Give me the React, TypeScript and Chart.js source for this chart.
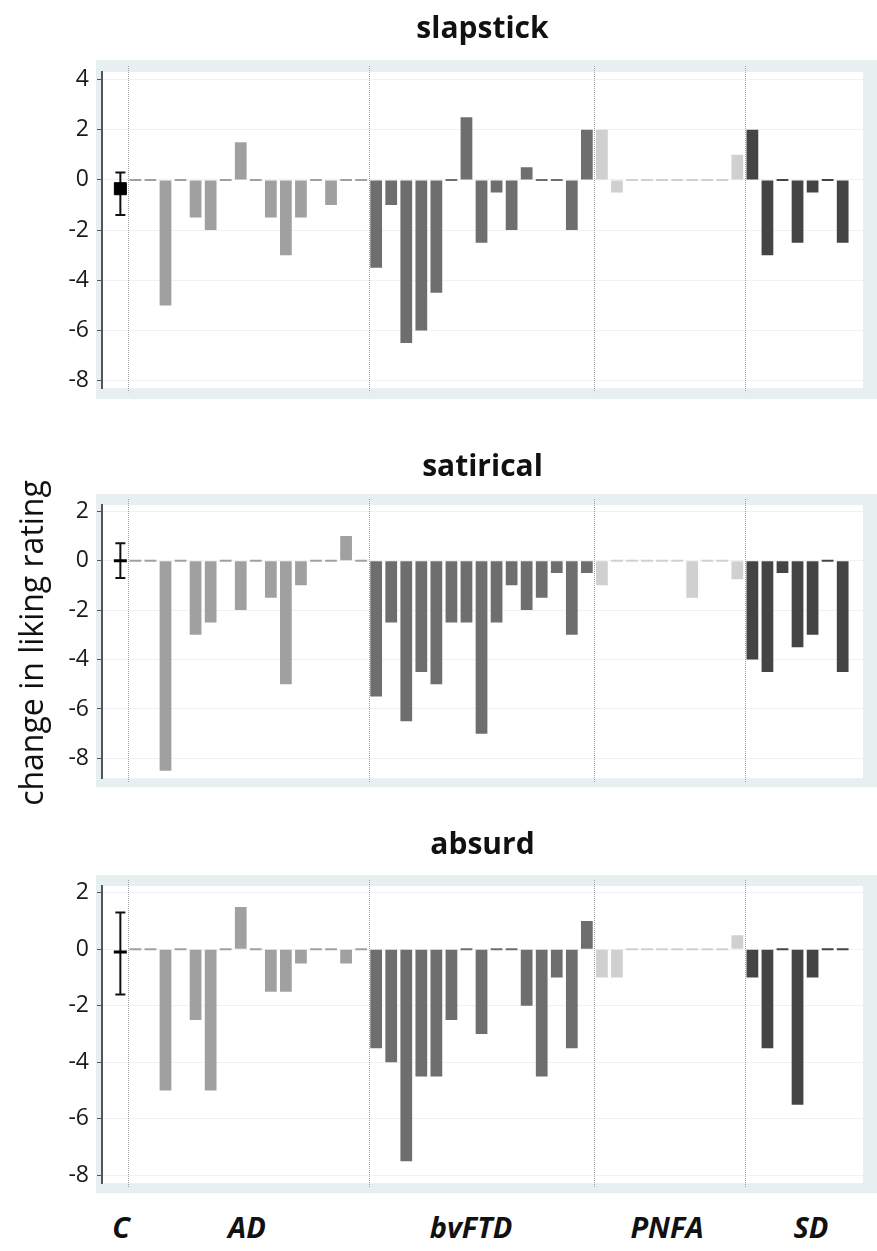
import React, { useEffect, useRef } from "react";
import { Chart, registerables } from "chart.js";

Chart.register(...registerables);

// ---------- text ----------
const panelTitles = ["slapstick", "satirical", "absurd"];
const yAxisTitle = "change in liking rating";
const groupLabels = ["C", "AD", "bvFTD", "PNFA", "SD"];

// ---------- tick labels ----------
const slapstickTicks = [4, 2, 0, -2, -4, -6, -8];
const satiricalTicks = [2, 0, -2, -4, -6, -8];
const absurdTicks = [2, 0, -2, -4, -6, -8];

// ---------- control group (mean with error bar) ----------
const controlMean = [-0.35, 0, -0.1];
const controlLow = [-1.4, -0.7, -1.6];
const controlHigh = [0.3, 0.7, 1.3];

// ---------- slapstick ----------
const slapstickAD = [0, 0, -5, 0, -1.5, -2, 0, 1.5, 0, -1.5, -3, -1.5, 0, -1, 0, 0];
const slapstickBvFTD = [-3.5, -1, -6.5, -6, -4.5, 0, 2.5, -2.5, -0.5, -2, 0.5, 0, 0, -2, 2];
const slapstickPNFA = [2, -0.5, 0, 0, 0, 0, 0, 0, 0, 1];
const slapstickSD = [2, -3, 0, -2.5, -0.5, 0, -2.5];

// ---------- satirical ----------
const satiricalAD = [0, 0, -8.5, 0, -3, -2.5, 0, -2, 0, -1.5, -5, -1, 0, 0, 1, 0];
const satiricalBvFTD = [-5.5, -2.5, -6.5, -4.5, -5, -2.5, -2.5, -7, -2.5, -1, -2, -1.5, -0.5, -3, -0.5];
const satiricalPNFA = [-1, 0, 0, 0, 0, 0, -1.5, 0, 0, -0.75];
const satiricalSD = [-4, -4.5, -0.5, -3.5, -3, 0, -4.5];

// ---------- absurd ----------
const absurdAD = [0, 0, -5, 0, -2.5, -5, 0, 1.5, 0, -1.5, -1.5, -0.5, 0, 0, -0.5, 0];
const absurdBvFTD = [-3.5, -4, -7.5, -4.5, -4.5, -2.5, 0, -3, 0, 0, -2, -4.5, -1, -3.5, 1];
const absurdPNFA = [-1, -1, 0, 0, 0, 0, 0, 0, 0, 0.5];
const absurdSD = [-1, -3.5, 0, -5.5, -1, 0, 0];

// ---------- styling ----------
const groupColors = ["#a0a0a0", "#6e6e6e", "#d0d0d0", "#444444"];
const frameColor = "#e8eff1";
const FONT = "'Open Sans', 'DejaVu Sans', sans-serif";

type PanelCfg = {
  idx: number;
  groups: number[][];
  ticks: number[];
  yMin: number;
  yMax: number;
  top: number;
  height: number;
  padTop: number;
  padBottom: number;
  frameTop: number;
  frameBottom: number;
  marker: "rect" | "line";
};

const panels: PanelCfg[] = [
  {
    idx: 0,
    groups: [slapstickAD, slapstickBvFTD, slapstickPNFA, slapstickSD],
    ticks: slapstickTicks,
    yMin: -8.3,
    yMax: 4.3,
    top: 0,
    height: 410,
    padTop: 72,
    padBottom: 18,
    frameTop: 12,
    frameBottom: 11,
    marker: "rect",
  },
  {
    idx: 1,
    groups: [satiricalAD, satiricalBvFTD, satiricalPNFA, satiricalSD],
    ticks: satiricalTicks,
    yMin: -8.8,
    yMax: 2.25,
    top: 420,
    height: 380,
    padTop: 85,
    padBottom: 16,
    frameTop: 11,
    frameBottom: 9,
    marker: "line",
  },
  {
    idx: 2,
    groups: [absurdAD, absurdBvFTD, absurdPNFA, absurdSD],
    ticks: absurdTicks,
    yMin: -8.28,
    yMax: 2.24,
    top: 860,
    height: 345,
    padTop: 26,
    padBottom: 17,
    frameTop: 11,
    frameBottom: 10,
    marker: "line",
  },
];

function buildBarDatasets(groups: number[][]) {
  let start = 1;
  return groups.map((vals, gi) => {
    const data = vals.map((v, i) => ({ x: start + i, y: v }));
    start += vals.length;
    return {
      type: "bar" as const,
      data,
      backgroundColor: groupColors[gi],
      borderWidth: 0,
      minBarLength: 2,
      grouped: false,
      barPercentage: 1,
      categoryPercentage: 0.78,
      order: 2,
    };
  });
}

function groupBoundaries(groups: number[][]) {
  const out: number[] = [0.5];
  let start = 1;
  groups.forEach((g, i) => {
    start += g.length;
    if (i < groups.length - 1) out.push(start - 0.5);
  });
  return out;
}

function Panel({ cfg }: { cfg: PanelCfg }) {
  const ref = useRef<HTMLCanvasElement | null>(null);
  useEffect(() => {
    if (!ref.current) return;
    const boundaries = groupBoundaries(cfg.groups);

    const framePlugin = {
      id: "frame",
      beforeDraw(chart: any) {
        const { ctx, chartArea: a } = chart;
        ctx.save();
        ctx.fillStyle = frameColor;
        const left = a.left - 6;
        const right = a.right + 14;
        ctx.fillRect(left, a.top - cfg.frameTop, right - left, a.bottom - a.top + cfg.frameTop + cfg.frameBottom);
        ctx.fillStyle = "#ffffff";
        ctx.fillRect(a.left, a.top, a.right - a.left, a.bottom - a.top);
        ctx.restore();
      },
    };

    const overlayPlugin = {
      id: "overlay",
      beforeDatasetsDraw(chart: any) {
        const { ctx, chartArea: a, scales } = chart;
        const xs = scales.x;
        const ys = scales.y;
        ctx.save();
        // dotted group dividers
        ctx.strokeStyle = "#a0a0a0";
        ctx.lineWidth = 1;
        ctx.setLineDash([1, 1]);
        boundaries.forEach((b) => {
          const px = Math.round(xs.getPixelForValue(b)) + 0.5;
          ctx.beginPath();
          ctx.moveTo(px, a.top - 6);
          ctx.lineTo(px, a.bottom + 4);
          ctx.stroke();
        });
        ctx.setLineDash([]);
        // control error bar
        const cx = xs.getPixelForValue(0);
        const yLo = ys.getPixelForValue(controlLow[cfg.idx]);
        const yHi = ys.getPixelForValue(controlHigh[cfg.idx]);
        ctx.strokeStyle = "#111111";
        ctx.lineWidth = 2;
        ctx.beginPath();
        ctx.moveTo(cx, yLo);
        ctx.lineTo(cx, yHi);
        ctx.moveTo(cx - 5, yLo);
        ctx.lineTo(cx + 5, yLo);
        ctx.moveTo(cx - 5, yHi);
        ctx.lineTo(cx + 5, yHi);
        ctx.stroke();
        ctx.restore();
      },
    };

    const chart = new Chart(ref.current, {
      type: "bar",
      data: {
        datasets: [
          ...buildBarDatasets(cfg.groups),
          {
            type: "scatter" as const,
            data: [{ x: 0, y: controlMean[cfg.idx] }],
            pointStyle: cfg.marker,
            pointRadius: cfg.marker === "rect" ? 8.5 : 6.5,
            backgroundColor: "#000000",
            borderColor: "#000000",
            borderWidth: cfg.marker === "rect" ? 1 : 3,
            order: 0,
          } as any,
        ],
      },
      options: {
        responsive: false,
        animation: false,
        devicePixelRatio: 1,
        layout: { padding: { top: cfg.padTop, bottom: cfg.padBottom, left: 0, right: 14 } },
        plugins: {
          legend: { display: false },
          tooltip: { enabled: false },
          title: { display: false },
        },
        scales: {
          x: {
            type: "linear",
            min: -1.22,
            max: 49.35,
            display: false,
            offset: false,
          },
          y: {
            min: cfg.yMin,
            max: cfg.yMax,
            afterFit: (s: any) => {
              s.width = 102;
            },
            afterBuildTicks: (s: any) => {
              s.ticks = cfg.ticks.map((v) => ({ value: v }));
            },
            grid: {
              color: "#edf3f3",
              lineWidth: 1,
              tickColor: "#555555",
              tickLength: 5,
              drawTicks: true,
            },
            border: { display: true, color: "#555555", width: 2 },
            ticks: {
              color: "#1a1a1a",
              padding: 8,
              font: { family: FONT, size: 23 },
              callback: (v: any) => String(v),
            },
          },
        },
      } as any,
      plugins: [framePlugin, overlayPlugin],
    });
    return () => chart.destroy();
  }, []);
  return (
    <canvas
      ref={ref}
      width={877}
      height={cfg.height}
      style={{ position: "absolute", left: 0, top: cfg.top, width: 877, height: cfg.height }}
    />
  );
}

const titleCenters = [27, 465, 843];
const groupLabelX = [121, 247, 471, 667, 811];

export default function App() {
  return (
    <div
      style={{
        position: "absolute",
        left: 0,
        top: 0,
        width: 877,
        height: 1251,
        background: "#ffffff",
        overflow: "hidden",
        fontFamily: FONT,
      }}
    >
      {panels.map((p) => (
        <Panel key={p.idx} cfg={p} />
      ))}
      {panelTitles.map((t, i) => (
        <div
          key={t}
          style={{
            position: "absolute",
            left: 102,
            width: 761,
            top: titleCenters[i] - 20,
            height: 40,
            lineHeight: "40px",
            textAlign: "center",
            fontWeight: 700,
            fontSize: 30,
            color: "#111111",
          }}
        >
          {t}
        </div>
      ))}
      <div
        style={{
          position: "absolute",
          left: 31 - 250,
          top: 643 - 20,
          width: 500,
          height: 40,
          lineHeight: "40px",
          textAlign: "center",
          fontSize: 32,
          color: "#111111",
          transform: "rotate(-90deg)",
          transformOrigin: "250px 20px",
        }}
      >
        {yAxisTitle}
      </div>
      {groupLabels.map((g, i) => (
        <div
          key={g}
          style={{
            position: "absolute",
            left: groupLabelX[i] - 60,
            width: 120,
            top: 1227 - 20,
            height: 40,
            lineHeight: "40px",
            textAlign: "center",
            fontWeight: 700,
            fontStyle: "italic",
            fontSize: 29,
            color: "#111111",
          }}
        >
          {g}
        </div>
      ))}
    </div>
  );
}
